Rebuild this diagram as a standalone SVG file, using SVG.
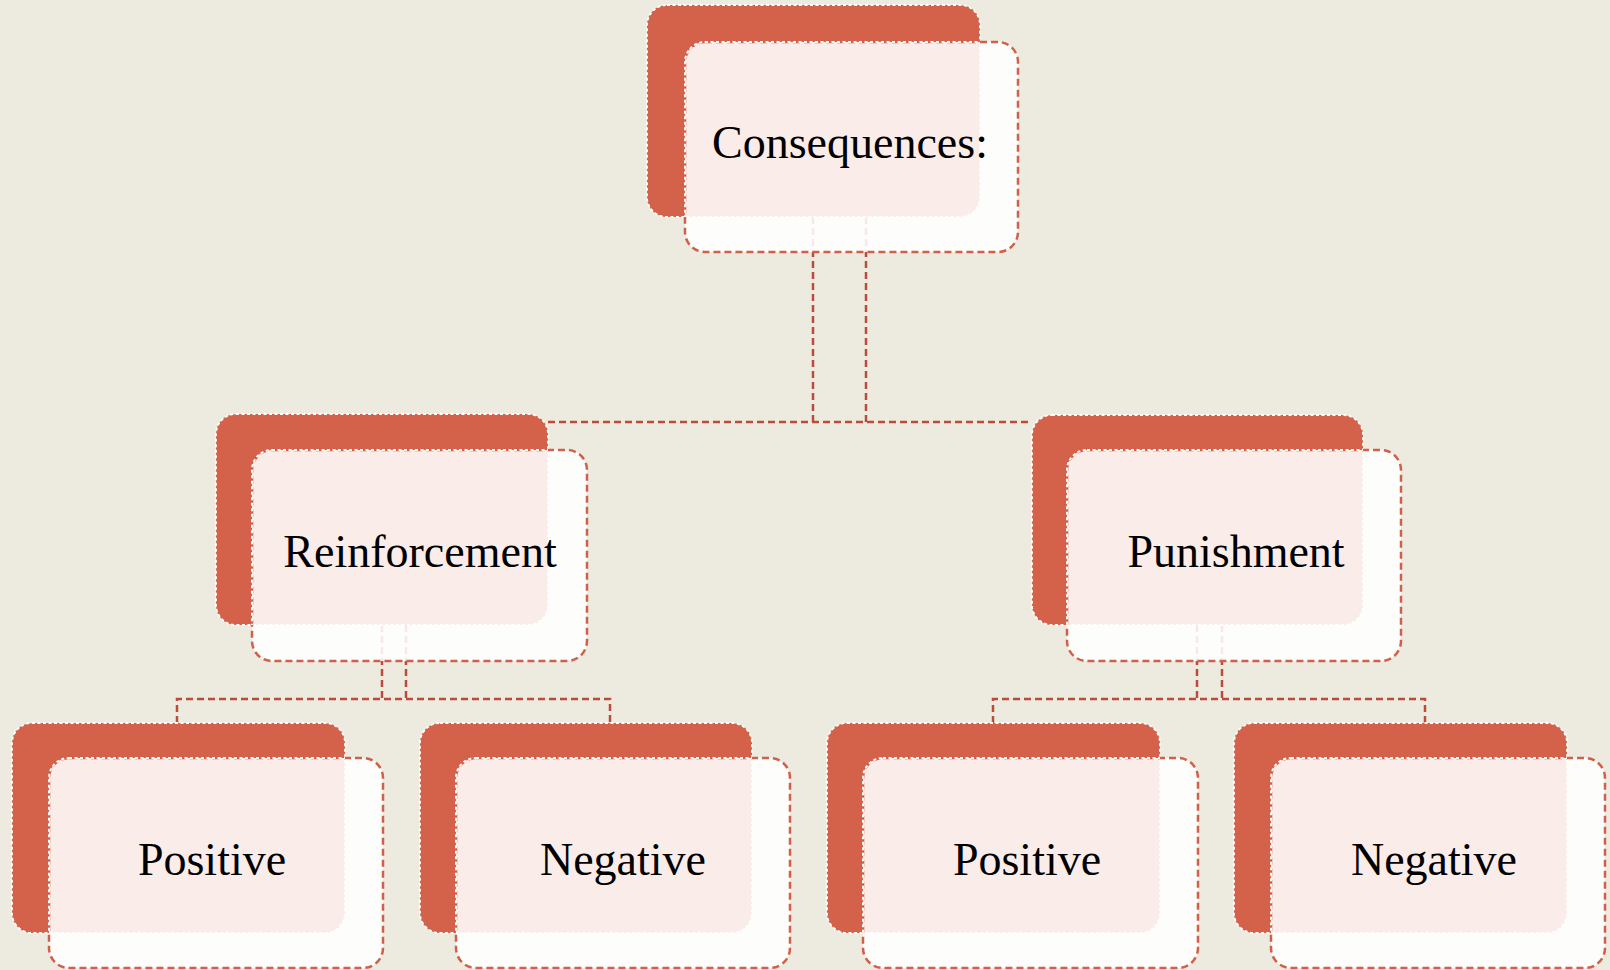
<svg xmlns="http://www.w3.org/2000/svg" width="1610" height="970" viewBox="0 0 1610 970">
<style>
.back{fill:#D4624A;stroke:#FFFFFF;stroke-width:1.8;stroke-dasharray:3 2.5}
.front{fill:#FFFFFF;fill-opacity:0.88;stroke:#D0604A;stroke-width:2.5;stroke-dasharray:7 4}
.edge{fill:none;stroke:#FFFFFF;stroke-width:2;stroke-dasharray:3 2.5}
.conn{fill:none;stroke:#BC4B39;stroke-width:2.5;stroke-dasharray:7 4}
.lbl{font-family:"Liberation Serif","Times New Roman",serif;font-size:46px;fill:#000;text-anchor:middle}
</style>
<defs>
<clipPath id="c0"><rect x="647" y="5" width="333" height="212" rx="20"/></clipPath>
<clipPath id="c1"><rect x="216" y="414" width="332" height="211" rx="20"/></clipPath>
<clipPath id="c2"><rect x="1032" y="415" width="331" height="210" rx="20"/></clipPath>
<clipPath id="c3"><rect x="12" y="723" width="333" height="210" rx="20"/></clipPath>
<clipPath id="c4"><rect x="420" y="723" width="332" height="210" rx="20"/></clipPath>
<clipPath id="c5"><rect x="827" y="723" width="333" height="210" rx="20"/></clipPath>
<clipPath id="c6"><rect x="1234" y="723" width="333" height="210" rx="20"/></clipPath>
</defs>
<rect x="0" y="0" width="1610" height="970" fill="#EDEBE0"/>
<g id="connectors">
<path class="conn" d="M813 217V422M866 217V422M548 422H1032"/>
<path class="conn" d="M382 625V699M406 625V699M177 723V699H610V723"/>
<path class="conn" d="M1197 625V699M1222 625V699M993 723V699H1425V723"/>
</g>
<g id="node-consequences">
<rect class="back" x="647" y="5" width="333" height="212" rx="20"/>
<rect class="front" x="685" y="42" width="333" height="210" rx="20"/>
<rect class="edge" x="685" y="42" width="333" height="210" rx="20" clip-path="url(#c0)"/>
<text class="lbl" x="850" y="158">Consequences:</text>
</g>
<g id="node-reinforcement">
<rect class="back" x="216" y="414" width="332" height="211" rx="20"/>
<rect class="front" x="252" y="450" width="335" height="211" rx="20"/>
<rect class="edge" x="252" y="450" width="335" height="211" rx="20" clip-path="url(#c1)"/>
<text class="lbl" x="420" y="567">Reinforcement</text>
</g>
<g id="node-punishment">
<rect class="back" x="1032" y="415" width="331" height="210" rx="20"/>
<rect class="front" x="1067" y="450" width="334" height="211" rx="20"/>
<rect class="edge" x="1067" y="450" width="334" height="211" rx="20" clip-path="url(#c2)"/>
<text class="lbl" x="1236" y="567">Punishment</text>
</g>
<g id="node-reinforcement-positive">
<rect class="back" x="12" y="723" width="333" height="210" rx="20"/>
<rect class="front" x="49" y="758" width="334" height="210" rx="20"/>
<rect class="edge" x="49" y="758" width="334" height="210" rx="20" clip-path="url(#c3)"/>
<text class="lbl" x="212" y="875">Positive</text>
</g>
<g id="node-reinforcement-negative">
<rect class="back" x="420" y="723" width="332" height="210" rx="20"/>
<rect class="front" x="456" y="758" width="334" height="210" rx="20"/>
<rect class="edge" x="456" y="758" width="334" height="210" rx="20" clip-path="url(#c4)"/>
<text class="lbl" x="623" y="875">Negative</text>
</g>
<g id="node-punishment-positive">
<rect class="back" x="827" y="723" width="333" height="210" rx="20"/>
<rect class="front" x="863" y="758" width="335" height="210" rx="20"/>
<rect class="edge" x="863" y="758" width="335" height="210" rx="20" clip-path="url(#c5)"/>
<text class="lbl" x="1027" y="875">Positive</text>
</g>
<g id="node-punishment-negative">
<rect class="back" x="1234" y="723" width="333" height="210" rx="20"/>
<rect class="front" x="1271" y="758" width="334" height="210" rx="20"/>
<rect class="edge" x="1271" y="758" width="334" height="210" rx="20" clip-path="url(#c6)"/>
<text class="lbl" x="1434" y="875">Negative</text>
</g>
</svg>
